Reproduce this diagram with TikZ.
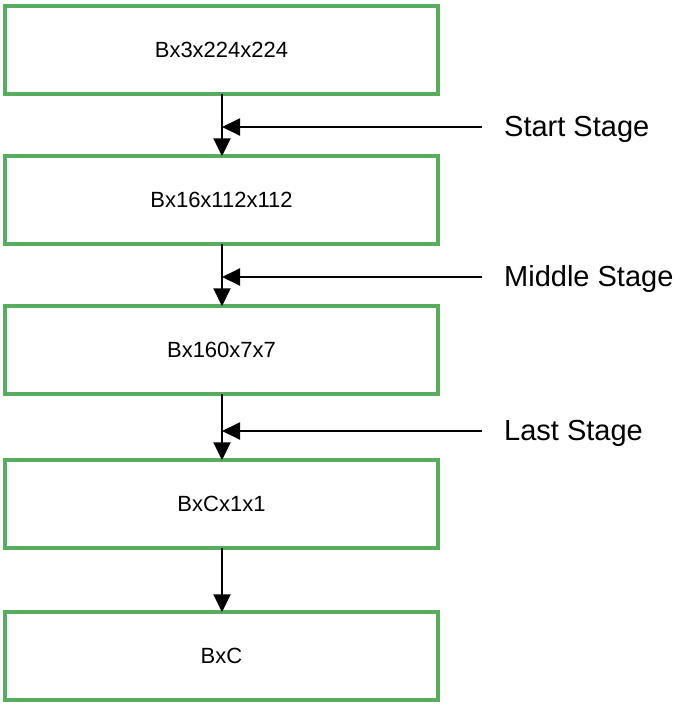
\documentclass[tikz,border=0pt]{standalone}
\usepackage{fontspec}
\setmainfont{Liberation Sans}
\usetikzlibrary{arrows.meta}
\definecolor{boxgreen}{RGB}{88,172,94}
\begin{document}
\begin{tikzpicture}[x=1pt,y=-1pt,
  stagebox/.style={draw=boxgreen,line width=4pt,minimum width=433.5pt,minimum height=87.5pt,
    inner sep=0pt,outer sep=0pt,font=\fontsize{22}{26}\selectfont},
  stagelabel/.style={anchor=west,inner sep=0pt,font=\fontsize{29}{34}\selectfont},
  conn/.style={line width=2pt,-{Triangle[width=17pt,length=18pt]}}]
\useasboundingbox (0,0) rectangle (688,706);
\node[stagebox] (b1) at (221.5,50) {Bx3x224x224};
\node[stagebox] (b2) at (221.5,200) {Bx16x112x112};
\node[stagebox] (b3) at (221.5,350) {Bx160x7x7};
\node[stagebox] (b4) at (221.5,504) {BxCx1x1};
\node[stagebox] (b5) at (221.5,656) {BxC};
\node[stagelabel] (l1) at (504,129) {Start Stage};
\node[stagelabel] (l2) at (504,279) {Middle Stage};
\node[stagelabel] (l3) at (504,433) {Last Stage};
\coordinate (s1) at (482,127);
\coordinate (s2) at (482,277);
\coordinate (s3) at (482,431);
\draw[conn] ([xshift=0.5pt]b1.south) -- ([xshift=0.5pt]b2.north);
\draw[conn] ([xshift=0.5pt]b2.south) -- ([xshift=0.5pt]b3.north);
\draw[conn] ([xshift=0.5pt]b3.south) -- ([xshift=0.5pt]b4.north);
\draw[conn] ([xshift=0.5pt]b4.south) -- ([xshift=0.5pt]b5.north);
\draw[conn] (s1) -- ([xshift=0.5pt]b1.south |- s1);
\draw[conn] (s2) -- ([xshift=0.5pt]b2.south |- s2);
\draw[conn] (s3) -- ([xshift=0.5pt]b3.south |- s3);
\end{tikzpicture}
\end{document}
